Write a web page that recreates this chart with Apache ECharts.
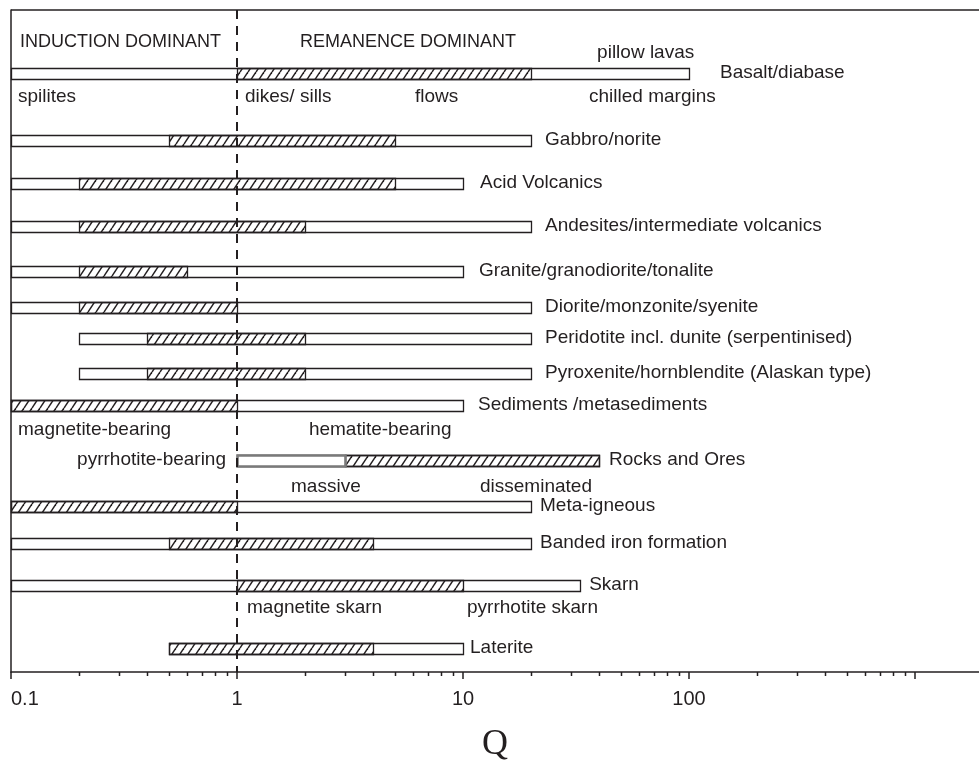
<!DOCTYPE html>
<html><head><meta charset="utf-8">
<script src="https://cdn.jsdelivr.net/npm/echarts/dist/echarts.min.js"></script>
<style>html,body{margin:0;padding:0;background:#fff}#c{width:979px;height:762px}</style>
</head><body><div id="c"></div>
<script>
// ---------- DATA ----------
const categories = ['Basalt/diabase','Gabbro/norite','Acid Volcanics','Andesites/intermediate volcanics',
  'Granite/granodiorite/tonalite','Diorite/monzonite/syenite','Peridotite incl. dunite (serpentinised)',
  'Pyroxenite/hornblendite (Alaskan type)','Sediments /metasediments','Rocks and Ores','Meta-igneous',
  'Banded iron formation','Skarn','Laterite'];
const rangeLow  = [0.1, 0.1, 0.1, 0.1, 0.1, 0.1, 0.2, 0.2, 0.1, 1,  0.1, 0.1, 0.1, 0.5];
const rangeHigh = [100, 20,  10,  20,  10,  20,  20,  20,  10,  40, 20,  20,  33,  10];
const typLow    = [1,   0.5, 0.2, 0.2, 0.2, 0.2, 0.4, 0.4, 0.1, 3,  0.1, 0.5, 1,   0.5];
const typHigh   = [20,  5,   5,   2,   0.6, 1,   2,   2,   1,   40, 1,   4,   10,  4];
// massive pyrrhotite segment (Rocks and Ores)
const massiveCat = ['Rocks and Ores'];
const massiveLow = [1];
const massiveHigh = [3];
const notes = ['INDUCTION DOMINANT','REMANENCE DOMINANT','pillow lavas','spilites','dikes/ sills','flows',
  'chilled margins','magnetite-bearing','hematite-bearing','pyrrhotite-bearing','massive','disseminated',
  'magnetite skarn','pyrrhotite skarn'];
const majorTicks = [0.1, 1, 10, 100, 1000];
const tickLabels = ['0.1','1','10','100'];
const minorTicks = [0.2,0.3,0.4,0.5,0.6,0.7,0.8,0.9,2,3,4,5,6,7,8,9,20,30,40,50,60,70,80,90,200,300,400,500,600,700,800,900];
const boundary = 1;

// ---------- LAYOUT ----------
const rowY = [63,130,173,216,261,297,328,363,395,450,496,533,575,638];
const labelGap = [31,14,17,14,16,14,14,14,15,10,9,9,9,7];
const noteQ = [0.1096,1.90,39.2,0.1074,1.085,6.13,36.1,0.1074,2.08,0.894,1.734,11.89,1.107,10.42];
const noteY = [32,32,43,87,87,87,87,420,420,450,477,477,598,598];
const noteAlign = ['left','left','left','left','left','left','left','left','left','right','left','left','left','left'];
const noteSize = [18,18,19,19,19,19,19,19,19,19,19,19,19,19];
const BAR_H = 11;
const FONT = '"Liberation Sans", Arial, sans-serif';
const INK = '#231f20';

function hatchCanvas(){
  const c = document.createElement('canvas');
  const w = 8, h = 12; c.width = w; c.height = h;
  const ctx = c.getContext('2d');
  ctx.strokeStyle = INK; ctx.lineWidth = 1.5;
  for (const dx of [-w, 0, w]) { ctx.beginPath(); ctx.moveTo(dx, h); ctx.lineTo(dx + w, 0); ctx.stroke(); }
  return c;
}
const hatch = {image: hatchCanvas(), repeat: 'repeat'};

function rectRender(style){
  return function(params, api){
    const a = api.coord([api.value(0), api.value(2)]);
    const b = api.coord([api.value(1), api.value(2)]);
    const y = Math.round(a[1] - BAR_H/2) + 0.5;
    return {type:'rect', shape:{x: Math.round(a[0]) + 0.5, y: y, width: Math.round(b[0]) - Math.round(a[0]), height: BAR_H}, style: style};
  };
}

const idx = categories.map((c,i)=>i);
const chart = echarts.init(document.getElementById('c'));
chart.setOption({
  animation: false,
  backgroundColor: '#fff',
  grid: {left: 11, right: 0, top: 10, bottom: 90, containLabel: false, outerBoundsMode: 'none'},
  xAxis: {
    type: 'log', logBase: 10, min: 0.1, max: 1919, position: 'bottom',
    name: 'Q', nameLocation: 'middle', nameGap: 55, nameMoveOverlap: false,
    nameTextStyle: {fontFamily: '"Liberation Serif", "Times New Roman", serif', fontSize: 36, color: INK},
    axisLine: {show: true, onZero: false, lineStyle: {color: INK, width: 1.5}},
    axisTick: {show: true, inside: false, length: 7, customValues: majorTicks, lineStyle: {color: INK, width: 1.5}},
    splitLine: {show: false},
    axisLabel: {
      color: INK, fontSize: 20, fontFamily: FONT, margin: 17, alignMinLabel: 'left',
      customValues: majorTicks,
      formatter: v => tickLabels[Math.round(Math.log10(v)) + 1] || ''
    }
  },
  yAxis: {
    type: 'value', min: 0, max: 662, inverse: true,
    axisLine: {show: true, lineStyle: {color: INK, width: 1.5}},
    axisTick: {show: false}, axisLabel: {show: false}, splitLine: {show: false}
  },
  series: [
    { // full range bars
      type: 'custom', name: 'range', clip: false, z: 2,
      encode: {x: [0, 1], y: 2},
      data: idx.map(i => [rangeLow[i], rangeHigh[i], rowY[i]]),
      renderItem: rectRender({fill: '#fff', stroke: INK, lineWidth: 1.3})
    },
    { // typical (hatched) range
      type: 'custom', name: 'typical', clip: false, z: 3,
      encode: {x: [0, 1], y: 2},
      data: idx.map(i => [typLow[i], typHigh[i], rowY[i]]),
      renderItem: rectRender({fill: hatch, stroke: INK, lineWidth: 1.3})
    },
    { // massive pyrrhotite
      type: 'custom', name: 'massive', clip: false, z: 4,
      encode: {x: [0, 1], y: 2},
      data: massiveCat.map((c, k) => [massiveLow[k], massiveHigh[k], rowY[categories.indexOf(c)]]),
      renderItem: rectRender({fill: '#fff', stroke: '#7a7a7a', lineWidth: 2.6})
    },
    { // category labels
      type: 'custom', name: 'labels', clip: false, z: 5,
      encode: {x: 0, y: 1},
      data: idx.map(i => [rangeHigh[i], rowY[i], i]),
      renderItem: function(params, api){
        const i = api.value(2);
        const p = api.coord([api.value(0), api.value(1)]);
        return {type: 'text', x: p[0] + labelGap[i], y: p[1],
          style: {text: categories[i], fill: INK, font: '19px ' + FONT, align: 'left', verticalAlign: 'middle'}};
      }
    },
    { // annotations
      type: 'custom', name: 'notes', clip: false, z: 5,
      encode: {x: 0, y: 1},
      data: notes.map((t, k) => [noteQ[k], noteY[k], k]),
      renderItem: function(params, api){
        const k = api.value(2);
        const p = api.coord([api.value(0), api.value(1)]);
        return {type: 'text', x: p[0], y: p[1],
          style: {text: notes[k], fill: INK, font: noteSize[k] + 'px ' + FONT, align: noteAlign[k], verticalAlign: 'middle'}};
      }
    },
    { // minor ticks
      type: 'custom', name: 'minor', clip: false, z: 5,
      encode: {x: 0, y: 1},
      data: minorTicks.map(v => [v, 662]),
      renderItem: function(params, api){
        const p = api.coord([api.value(0), api.value(1)]);
        const x = Math.round(p[0]) + 0.5;
        return {type: 'line', shape: {x1: x, y1: p[1], x2: x, y2: p[1] + 4}, style: {stroke: INK, lineWidth: 1.5}};
      },
      markLine: {
        silent: true, symbol: 'none', z: 6,
        label: {show: false},
        data: [
          {xAxis: boundary, lineStyle: {color: INK, type: [9, 7], width: 2}},
          {yAxis: 0, lineStyle: {color: INK, type: 'solid', width: 1.5}}
        ]
      }
    }
  ]
});
</script></body></html>
